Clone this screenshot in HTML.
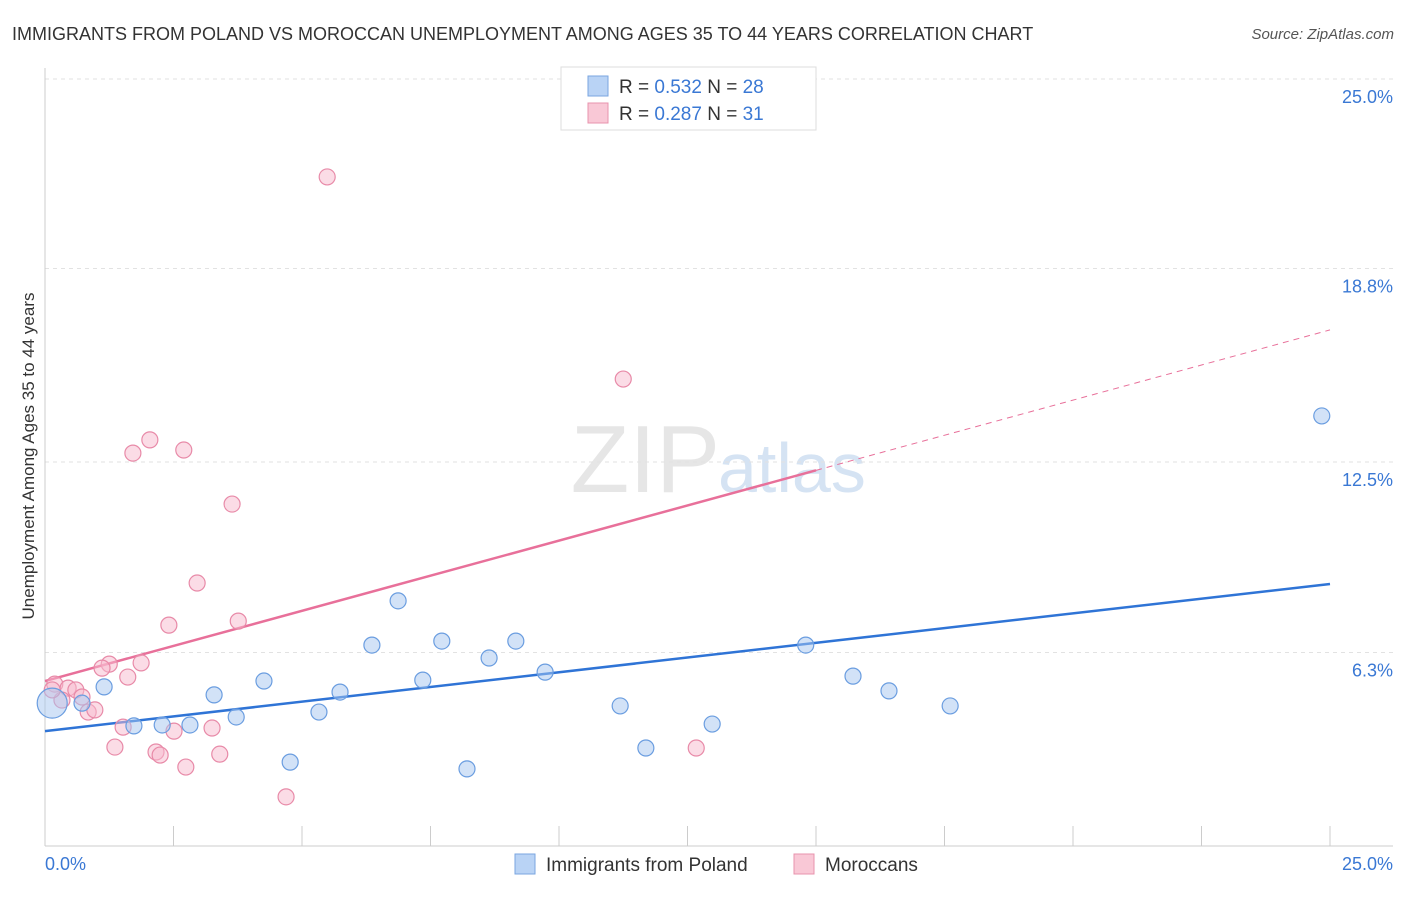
<!DOCTYPE html>
<html><head><meta charset="utf-8"><style>
body{margin:0;background:#fff;font-family:"Liberation Sans",sans-serif;}
svg text{font-family:"Liberation Sans",sans-serif;}
</style></head><body>
<svg id="chart" width="1406" height="892" viewBox="0 0 1406 892">
<text x="12" y="40" font-size="18" fill="#333">IMMIGRANTS FROM POLAND VS MOROCCAN UNEMPLOYMENT AMONG AGES 35 TO 44 YEARS CORRELATION CHART</text>
<text x="1394" y="39" font-size="15" fill="#555" font-style="italic" text-anchor="end">Source: ZipAtlas.com</text>
<text x="720" y="492" font-size="96" fill="#e6e6e6" font-family="Liberation Serif" text-anchor="end">ZIP</text>
<text x="718" y="492" font-size="70" fill="#d5e3f3">atlas</text>
<text transform="translate(34,456) rotate(-90)" font-size="17" fill="#333" text-anchor="middle">Unemployment Among Ages 35 to 44 years</text>
<g id="grid"></g><g id="axes"></g><g id="trends"></g><g id="points"></g>
<g>
<rect x="561" y="67" width="255" height="63" fill="#fff" stroke="#ddd"/>
<rect x="588" y="76" width="20" height="20" fill="#b9d3f5" stroke="#7aa6e0"/>
<text x="619" y="93" font-size="19" fill="#333">R = <tspan fill="#3a78d4">0.532</tspan>   N = <tspan fill="#3a78d4">28</tspan></text>
<rect x="588" y="103" width="20" height="20" fill="#f9c8d6" stroke="#e893ad"/>
<text x="619" y="120" font-size="19" fill="#333">R = <tspan fill="#3a78d4">0.287</tspan>   N =  <tspan fill="#3a78d4">31</tspan></text>
</g>
<g>
<rect x="515" y="854" width="20" height="20" fill="#b9d3f5" stroke="#7aa6e0"/>
<text x="546" y="871" font-size="19" fill="#333">Immigrants from Poland</text>
<rect x="794" y="854" width="20" height="20" fill="#f9c8d6" stroke="#e893ad"/>
<text x="825" y="871" font-size="19" fill="#333">Moroccans</text>
</g>
</svg>
<script>
const blueX=[0.14,0.72,1.15,1.73,2.28,2.82,3.29,3.72,4.26,4.77,5.33,5.74,6.36,6.87,7.35,7.72,8.21,8.64,9.16,9.73,11.19,11.69,12.98,14.80,15.72,16.42,17.61,24.84];
const blueY=[4.65,4.65,5.18,3.91,3.94,3.94,4.92,4.20,5.37,2.73,4.36,5.01,6.54,7.98,5.40,6.67,2.51,6.12,6.67,5.66,4.56,3.19,3.97,6.54,5.53,5.05,4.56,14.00];
const pinkX=[5.49,11.25,2.04,1.71,2.70,3.64,2.96,2.41,3.76,1.25,1.87,1.11,1.61,0.19,0.45,0.60,0.72,0.33,0.84,0.97,1.52,1.36,2.16,2.24,2.51,3.25,3.40,2.74,4.69,12.67,0.14];
const pinkY=[21.78,15.20,13.22,12.79,12.89,11.13,8.56,7.19,7.32,5.92,5.96,5.79,5.50,5.27,5.14,5.08,4.85,4.75,4.36,4.43,3.87,3.22,3.06,2.96,3.74,3.84,2.99,2.57,1.60,3.19,5.08];
const blueTrend=[3.74,8.53];
const pinkTrend=[5.37,16.80];
const yTicks=[25.0,18.8,12.5,6.3];
const xTickLabels=["0.0%","25.0%"];
const NS="http://www.w3.org/2000/svg";
const X=v=>45+v/25*1285, Y=v=>846-v/6.25*192;
function mk(tag,attrs,parent){const e=document.createElementNS(NS,tag);for(const k in attrs)e.setAttribute(k,attrs[k]);document.getElementById(parent).appendChild(e);return e;}
yTicks.forEach(t=>{
 const yy=t===25?79:Y(t);
 const l=mk('line',{x1:45,x2:1393,y1:yy,y2:yy,stroke:'#e2e2e2','stroke-dasharray':'4,4'},'grid');
 
 
 const tx=mk('text',{x:1393,y:yy+41-2*0+(-17),'font-size':18,fill:'#3a78d4','text-anchor':'end'},'grid');
 tx.setAttribute('y',yy+24);
 tx.textContent=t.toFixed(1)+'%';
 
 
});
const ax=mk('line',{x1:45,x2:1393,y1:846,y2:846,stroke:'#ccc'},'axes');


const ay=mk('line',{x1:45,x2:45,y1:68,y2:846,stroke:'#ccc'},'axes');


for(let i=0;i<=10;i++){const xx=X(i*2.5);const t=mk('line',{x1:xx,x2:xx,y1:826,y2:846,stroke:'#ccc'},'axes');
 
 }
[[0,'start',45],[1,'end',1393]].forEach(([i,a,x])=>{const t=mk('text',{x:x,y:870,'font-size':18,fill:'#3a78d4','text-anchor':a},'axes');t.textContent=xTickLabels[i];
 
 });
const bl=mk('line',{x1:X(0),y1:Y(blueTrend[0]),x2:X(25),y2:Y(blueTrend[1]),stroke:'#2f74d6','stroke-width':2.5},'trends');


const pm=pinkTrend[0]+(pinkTrend[1]-pinkTrend[0])*0.6;
const pl=mk('line',{x1:X(0),y1:Y(pinkTrend[0]),x2:X(15),y2:Y(pm),stroke:'#e8709a','stroke-width':2.5},'trends');


const pd=mk('line',{x1:X(15),y1:Y(pm),x2:X(25),y2:Y(pinkTrend[1]),stroke:'#e8709a','stroke-width':1,'stroke-dasharray':'6,5'},'trends');


pinkX.forEach((v,i)=>{const c=mk('circle',{cx:X(v),cy:Y(pinkY[i]),r:8,fill:'rgba(248,185,205,0.5)',stroke:'#e88aa8','stroke-width':1.2},'points');
 
 });
blueX.forEach((v,i)=>{const c=mk('circle',{cx:X(v),cy:Y(blueY[i]),r:i===0?15:8,fill:'rgba(165,198,240,0.5)',stroke:'#6a9de0','stroke-width':1.2},'points');
 
 });
</script>
</body></html>
